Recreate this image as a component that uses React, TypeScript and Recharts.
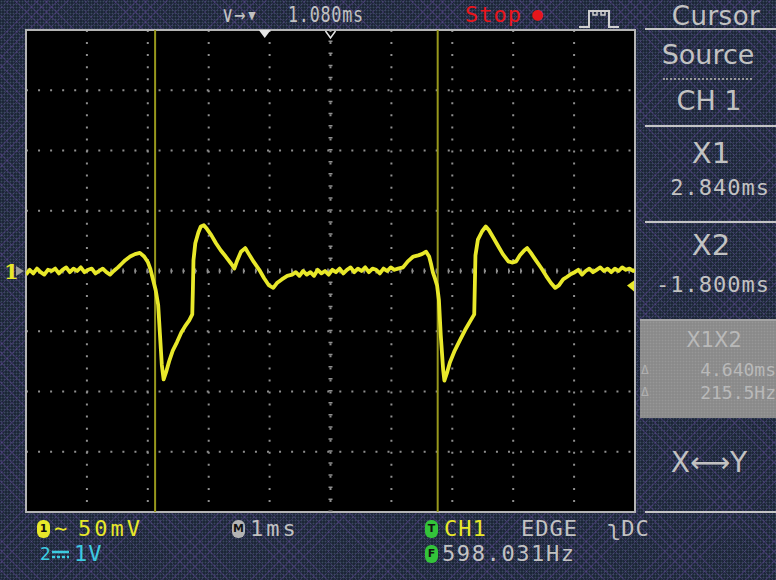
import React from 'react';
import {
  LineChart,
  Line,
  XAxis,
  YAxis,
  CartesianGrid,
  ReferenceLine,
  ReferenceArea,
  ReferenceDot,
} from 'recharts';

// ---- axis / grid values (ms, mV) ----
const gridTimes = [-3.92, -2.92, -1.92, -0.92, 0.08, 1.08, 2.08, 3.08, 4.08, 5.08, 6.08];
const gridVolts = [-200, -150, -100, -50, 0, 50, 100, 150, 200];
const minorSteps = [0, 0.2, 0.4, 0.6, 0.8];
const minorTimes = gridTimes
  .slice(0, -1)
  .flatMap((t) => minorSteps.map((f) => Math.round((t + f) * 100) / 100))
  .concat([gridTimes[gridTimes.length - 1]]);
const minorVolts = gridVolts
  .slice(0, -1)
  .flatMap((v) => minorSteps.map((f) => v + f * 50))
  .concat([gridVolts[gridVolts.length - 1]]);
const centerTime = 1.08;
const cursorTimes = [-1.8, 2.84];
const triggerTime = 0;
const triggerLevel = -12;

// ---- CH1 trace (time in ms relative to trigger, value in mV) ----
const timeMs = [
  -3.92, -3.86, -3.8, -3.74, -3.68, -3.62, -3.56, -3.5, -3.44, -3.38, -3.32, -3.26, -3.2, -3.14,
  -3.08, -3.02, -2.96, -2.9, -2.84, -2.78, -2.72, -2.66, -2.6, -2.54, -2.48,
  -2.41, -2.35, -2.29, -2.21, -2.13, -2.05, -1.98, -1.92, -1.88, -1.85, -1.82, -1.79, -1.75,
  -1.72, -1.69, -1.66, -1.62, -1.57, -1.51, -1.44, -1.37, -1.31, -1.24, -1.19, -1.18, -1.17,
  -1.14, -1.09, -1.05, -1.0, -0.95, -0.88, -0.8, -0.72, -0.64, -0.55, -0.5, -0.45, -0.39,
  -0.32, -0.26, -0.18, -0.09, -0.01, 0.07, 0.14, 0.2, 0.28, 0.37, 0.45,
  0.51, 0.57, 0.63, 0.69, 0.75, 0.81, 0.87, 0.93, 0.99, 1.05, 1.11, 1.17, 1.23, 1.29, 1.35,
  1.41, 1.47, 1.53, 1.59, 1.65, 1.71, 1.77, 1.83, 1.89, 1.95, 2.01, 2.07, 2.13, 2.19,
  2.27, 2.35, 2.44, 2.52, 2.58, 2.65, 2.7, 2.73, 2.76, 2.8, 2.83, 2.86, 2.89, 2.93, 2.95,
  2.99, 3.04, 3.12, 3.21, 3.29, 3.37, 3.44, 3.45, 3.46, 3.5, 3.57, 3.63, 3.68, 3.75, 3.83,
  3.91, 4.0, 4.06, 4.13, 4.19, 4.26, 4.31, 4.37, 4.45, 4.54, 4.62, 4.7, 4.77, 4.83, 4.9,
  4.96, 5.03,
  5.09, 5.15, 5.21, 5.27, 5.33, 5.39, 5.45, 5.51, 5.57, 5.63, 5.69, 5.75, 5.81, 5.87, 5.93,
  5.99, 6.05, 6.08,
];
const ch1mV = [
  -3, 1, -2, 2, -1, -3, 1, 0, 2, -2, 1, 3, -1, 2,
  0, 3, -1, 1, 2, -2, 0, 2, -1, -3, 0,
  3, 6, 9, 12, 14, 15, 12, 7.5, 2, -4, -10, -16, -28,
  -53, -78, -90, -84, -75, -66, -59, -51, -46, -41, -36, -16, 9,
  23, 32, 37, 38, 35, 30, 23, 17, 12, 6, 2, 9, 16,
  19, 14, 7.5, 1, -6, -12, -14, -10, -7, -4, -3,
  -1, -4, 0, -3, -1, -4, 1, -2, 0, -3, 1, -1, 2, -2, 1,
  3, -1, 2, 0, 3, -1, 2, 1, -2, 2, 0, 3, 1, 2,
  3, 8, 12, 13, 14, 16, 12, 6, -1, -7, -12, -24, -53, -82, -91,
  -85, -76, -66, -57, -49, -42, -36, -12, 13, 26, 33, 37, 34, 28, 21,
  14, 8, 7, 8, 13, 17, 19, 15, 9, 2.5, -4, -10, -14, -12, -7,
  -5, -2.5,
  -1, 1, -3, 0, 2, -1, 1, 3, 0, 2, -1, 2, 0, 3, 1,
  2, 0, 1,
];

const traceData = timeMs.map((t, i) => ({ t, v: ch1mV[i] }));

const MONO = '"DejaVu Sans Mono", monospace';
const SANS = '"DejaVu Sans", sans-serif';
const GRAY = '#c2c2c2';
const YELLOW = '#e8e82a';
const CYAN = '#3ccbe0';
const GREEN = '#33c43a';
const RED = '#e8161c';

const bgPattern: React.CSSProperties = {
  backgroundColor: '#1c2637',
  backgroundImage: [
    'repeating-linear-gradient(45deg, rgba(105,70,165,0.30) 0px, rgba(105,70,165,0.30) 1px, transparent 1px, transparent 7px)',
    'repeating-linear-gradient(-45deg, rgba(105,70,165,0.30) 0px, rgba(105,70,165,0.30) 1px, transparent 1px, transparent 7px)',
    'radial-gradient(circle, rgba(120,140,170,0.35) 0.8px, transparent 1.1px)',
  ].join(','),
  backgroundSize: 'auto, auto, 3px 3px',
};

type TP = {
  x: number;
  y: number;
  s?: number;
  c?: string;
  f?: string;
  ls?: number;
  sx?: number;
  align?: 'left' | 'right' | 'center';
  children: React.ReactNode;
};

const Txt = ({ x, y, s = 22, c = GRAY, f = MONO, ls = 1, sx = 1, align = 'left', children }: TP) => {
  const base: React.CSSProperties = {
    position: 'absolute',
    top: y,
    fontSize: s,
    color: c,
    fontFamily: f,
    letterSpacing: ls,
    lineHeight: 1,
    whiteSpace: 'nowrap',
    transform: sx !== 1 ? `scaleX(${sx})` : undefined,
    transformOrigin: 'left top',
  };
  if (align === 'right') return <div style={{ ...base, right: 776 - x, transformOrigin: 'right top' }}>{children}</div>;
  if (align === 'center')
    return <div style={{ ...base, left: x - 100, width: 200, textAlign: 'center', transformOrigin: 'center top' }}>{children}</div>;
  return <div style={{ ...base, left: x }}>{children}</div>;
};

const Badge = ({ x, y, bg, label }: { x: number; y: number; bg: string; label: string }) => (
  <div
    style={{
      position: 'absolute',
      left: x,
      top: y,
      width: 13,
      height: 18,
      borderRadius: 6,
      background: bg,
      color: '#111',
      fontFamily: SANS,
      fontWeight: 'bold',
      fontSize: 11,
      lineHeight: '18px',
      textAlign: 'center',
    }}
  >
    {label}
  </div>
);

const HLine = ({ x1, x2, y, dotted }: { x1: number; x2: number; y: number; dotted?: boolean }) => (
  <div
    style={{
      position: 'absolute',
      left: x1,
      top: y,
      width: x2 - x1,
      height: 0,
      borderTop: dotted ? '2px dotted #9a9a9a' : '2px solid #c4c4c4',
    }}
  />
);

const TopTriangle = (p: any) => (
  <polygon points={`${p.cx - 6},${p.cy} ${p.cx + 6},${p.cy} ${p.cx},${p.cy + 8}`} fill="#e6e6e6" />
);
const CenterV = (p: any) => (
  <polyline
    points={`${p.cx - 5},${p.cy + 1} ${p.cx},${p.cy + 8} ${p.cx + 5},${p.cy + 1}`}
    fill="none"
    stroke="#e6e6e6"
    strokeWidth={1.5}
  />
);
const TrigLevel = (p: any) => (
  <polygon points={`${p.cx - 1},${p.cy - 5} ${p.cx - 1},${p.cy + 6} ${p.cx - 8},${p.cy}`} fill={YELLOW} />
);
const ChMarker = (p: any) => (
  <g>
    <text x={p.cx - 22} y={p.cy + 8} fill={YELLOW} fontFamily='"DejaVu Serif", serif' fontWeight="bold" fontSize={21}>
      1
    </text>
    <polygon points={`${p.cx - 10},${p.cy - 5} ${p.cx - 10},${p.cy + 5} ${p.cx - 2},${p.cy}`} fill="#9a9a9a" />
  </g>
);

export default function App() {
  return (
    <div style={{ position: 'absolute', left: 0, top: 0, width: 776, height: 580, overflow: 'hidden', ...bgPattern }}>
      <LineChart
        width={776}
        height={580}
        data={traceData}
        margin={{ top: 30, right: 141, bottom: 68, left: 26 }}
        style={{ position: 'absolute', left: 0, top: 0 }}
      >
        <CartesianGrid
          fill="#000000"
          stroke="#8e8e8e"
          strokeWidth={2}
          strokeDasharray="2 10.05"
          horizontal
          vertical
        />
        <XAxis dataKey="t" type="number" domain={[-3.92, 6.08]} ticks={gridTimes} allowDataOverflow hide />
        <YAxis type="number" domain={[-200, 200]} ticks={gridVolts} allowDataOverflow hide />
        <XAxis
          xAxisId="top"
          orientation="top"
          mirror
          type="number"
          domain={[-3.92, 6.08]}
          ticks={minorTimes}
          interval={0}
          tick={false}
          axisLine={false}
          tickSize={4}
          tickLine={{ stroke: '#a8a8a8', strokeWidth: 1.5 }}
          allowDataOverflow
        />
        <XAxis
          xAxisId="bottom"
          orientation="bottom"
          mirror
          type="number"
          domain={[-3.92, 6.08]}
          ticks={minorTimes}
          interval={0}
          tick={false}
          axisLine={false}
          tickSize={4}
          tickLine={{ stroke: '#a8a8a8', strokeWidth: 1.5 }}
          allowDataOverflow
        />
        <YAxis
          yAxisId="left"
          orientation="left"
          mirror
          type="number"
          domain={[-200, 200]}
          ticks={minorVolts}
          interval={0}
          tick={false}
          axisLine={false}
          tickSize={4}
          tickLine={{ stroke: '#a8a8a8', strokeWidth: 1.5 }}
          allowDataOverflow
        />
        <YAxis
          yAxisId="right"
          orientation="right"
          mirror
          type="number"
          domain={[-200, 200]}
          ticks={minorVolts}
          interval={0}
          tick={false}
          axisLine={false}
          tickSize={4}
          tickLine={{ stroke: '#a8a8a8', strokeWidth: 1.5 }}
          allowDataOverflow
        />
        <ReferenceLine y={0} stroke="#8e8e8e" strokeWidth={5} strokeDasharray="1.5 10.55" />
        <ReferenceLine x={centerTime} stroke="#8e8e8e" strokeWidth={4} strokeDasharray="1.5 10.55" />
        {cursorTimes.map((c) => (
          <ReferenceLine key={c} x={c} stroke="#98981c" strokeWidth={2} />
        ))}
        <ReferenceArea
          x1={-3.92}
          x2={6.08}
          y1={-200}
          y2={200}
          fill="none"
          fillOpacity={0}
          stroke="#b4b4b4"
          strokeWidth={2}
          ifOverflow="visible"
        />
        <Line
          dataKey="v"
          type="linear"
          stroke={YELLOW}
          strokeWidth={3.8}
          dot={false}
          isAnimationActive={false}
          strokeLinejoin="round"
        />
        <ReferenceDot x={triggerTime} y={200} r={0} shape={TopTriangle} ifOverflow="visible" />
        <ReferenceDot x={centerTime} y={200} r={0} shape={CenterV} ifOverflow="visible" />
        <ReferenceDot x={6.08} y={triggerLevel} r={0} shape={TrigLevel} ifOverflow="visible" />
        <ReferenceDot x={-3.92} y={0} r={0} shape={ChMarker} ifOverflow="visible" />
      </LineChart>

      {/* top bar */}
      <Txt x={222} y={4} sx={0.85}>∨→▾</Txt>
      <Txt x={288} y={4} sx={0.76}>1.080ms</Txt>
      <Txt x={465} y={4} c={RED}>Stop</Txt>
      <Txt x={532} y={5} s={18} c={RED}>●</Txt>
      <svg style={{ position: 'absolute', left: 578, top: 8 }} width={44} height={22}>
        <polyline
          points="1,19 11,19 11,3 31,3 31,19 41,19"
          fill="none"
          stroke="#d0d0d0"
          strokeWidth={2}
        />
        <polyline points="15,3 15,7 19,7 19,3 23,3 23,7 27,7 27,3" fill="none" stroke="#d0d0d0" strokeWidth={1.5} />
      </svg>
      <Txt x={716} y={3} s={26} f={SANS} ls={0.5} align="center">Cursor</Txt>

      {/* right panel */}
      <HLine x1={645} x2={776} y={28} />
      <Txt x={708} y={41} s={27} f={SANS} ls={0} align="center">Source</Txt>
      <HLine x1={663} x2={752} y={78} dotted />
      <Txt x={709} y={87} s={27} f={SANS} ls={0} align="center">CH 1</Txt>
      <HLine x1={645} x2={776} y={125} />
      <Txt x={711} y={139} s={29} f={SANS} ls={0} align="center">X1</Txt>
      <Txt x={770} y={177} align="right">2.840ms</Txt>
      <HLine x1={645} x2={776} y={221} />
      <Txt x={711} y={231} s={29} f={SANS} ls={0} align="center">X2</Txt>
      <Txt x={770} y={274} align="right">-1.800ms</Txt>
      <div
        style={{
          position: 'absolute',
          left: 640,
          top: 319,
          width: 136,
          height: 97,
          backgroundColor: '#8a8a8a',
          backgroundImage: 'radial-gradient(circle, rgba(160,160,160,0.6) 0.8px, transparent 1.1px)',
          backgroundSize: '3px 3px',
          borderTop: '2px solid #a4a4a4',
        }}
      />
      <Txt x={714} y={330} s={21} f={SANS} ls={0} c="#b9b9b9" align="center">X1X2</Txt>
      <Txt x={641} y={363} s={13} c="#b0b0b0">Δ</Txt>
      <Txt x={776} y={361} s={18} c="#b9b9b9" ls={0} align="right">4.640ms</Txt>
      <Txt x={641} y={385} s={13} c="#b0b0b0">Δ</Txt>
      <Txt x={776} y={384} s={18} c="#b9b9b9" ls={0} align="right">215.5Hz</Txt>
      <Txt x={709} y={449} s={28} f={SANS} ls={0} align="center">X⟷Y</Txt>
      <HLine x1={645} x2={776} y={511} />

      {/* bottom bar */}
      <Badge x={37} y={520} bg={YELLOW} label="1" />
      <Txt x={54} y={518} c={YELLOW}>∼</Txt>
      <Txt x={78} y={518} c={YELLOW} ls={3}>50mV</Txt>
      <Txt x={40} y={546} s={17} c={CYAN} f={SANS}>2</Txt>
      <svg style={{ position: 'absolute', left: 52, top: 550 }} width={18} height={10}>
        <line x1={0} y1={2} x2={17} y2={2} stroke={CYAN} strokeWidth={2.5} />
        <line x1={0} y1={7} x2={17} y2={7} stroke={CYAN} strokeWidth={2.5} strokeDasharray="3 2" />
      </svg>
      <Txt x={74} y={543} c={CYAN} ls={1}>1V</Txt>
      <Badge x={232} y={520} bg="#b4b4b4" label="M" />
      <Txt x={250} y={518} ls={3}>1ms</Txt>
      <Badge x={425} y={520} bg={GREEN} label="T" />
      <Txt x={444} y={518} c={YELLOW} ls={1}>CH1</Txt>
      <Txt x={521} y={518} ls={1}>EDGE</Txt>
      <Txt x={607} y={518} ls={1}>ʅDC</Txt>
      <Badge x={425} y={545} bg={GREEN} label="F" />
      <Txt x={442} y={543} ls={1.6}>598.031Hz</Txt>
    </div>
  );
}
